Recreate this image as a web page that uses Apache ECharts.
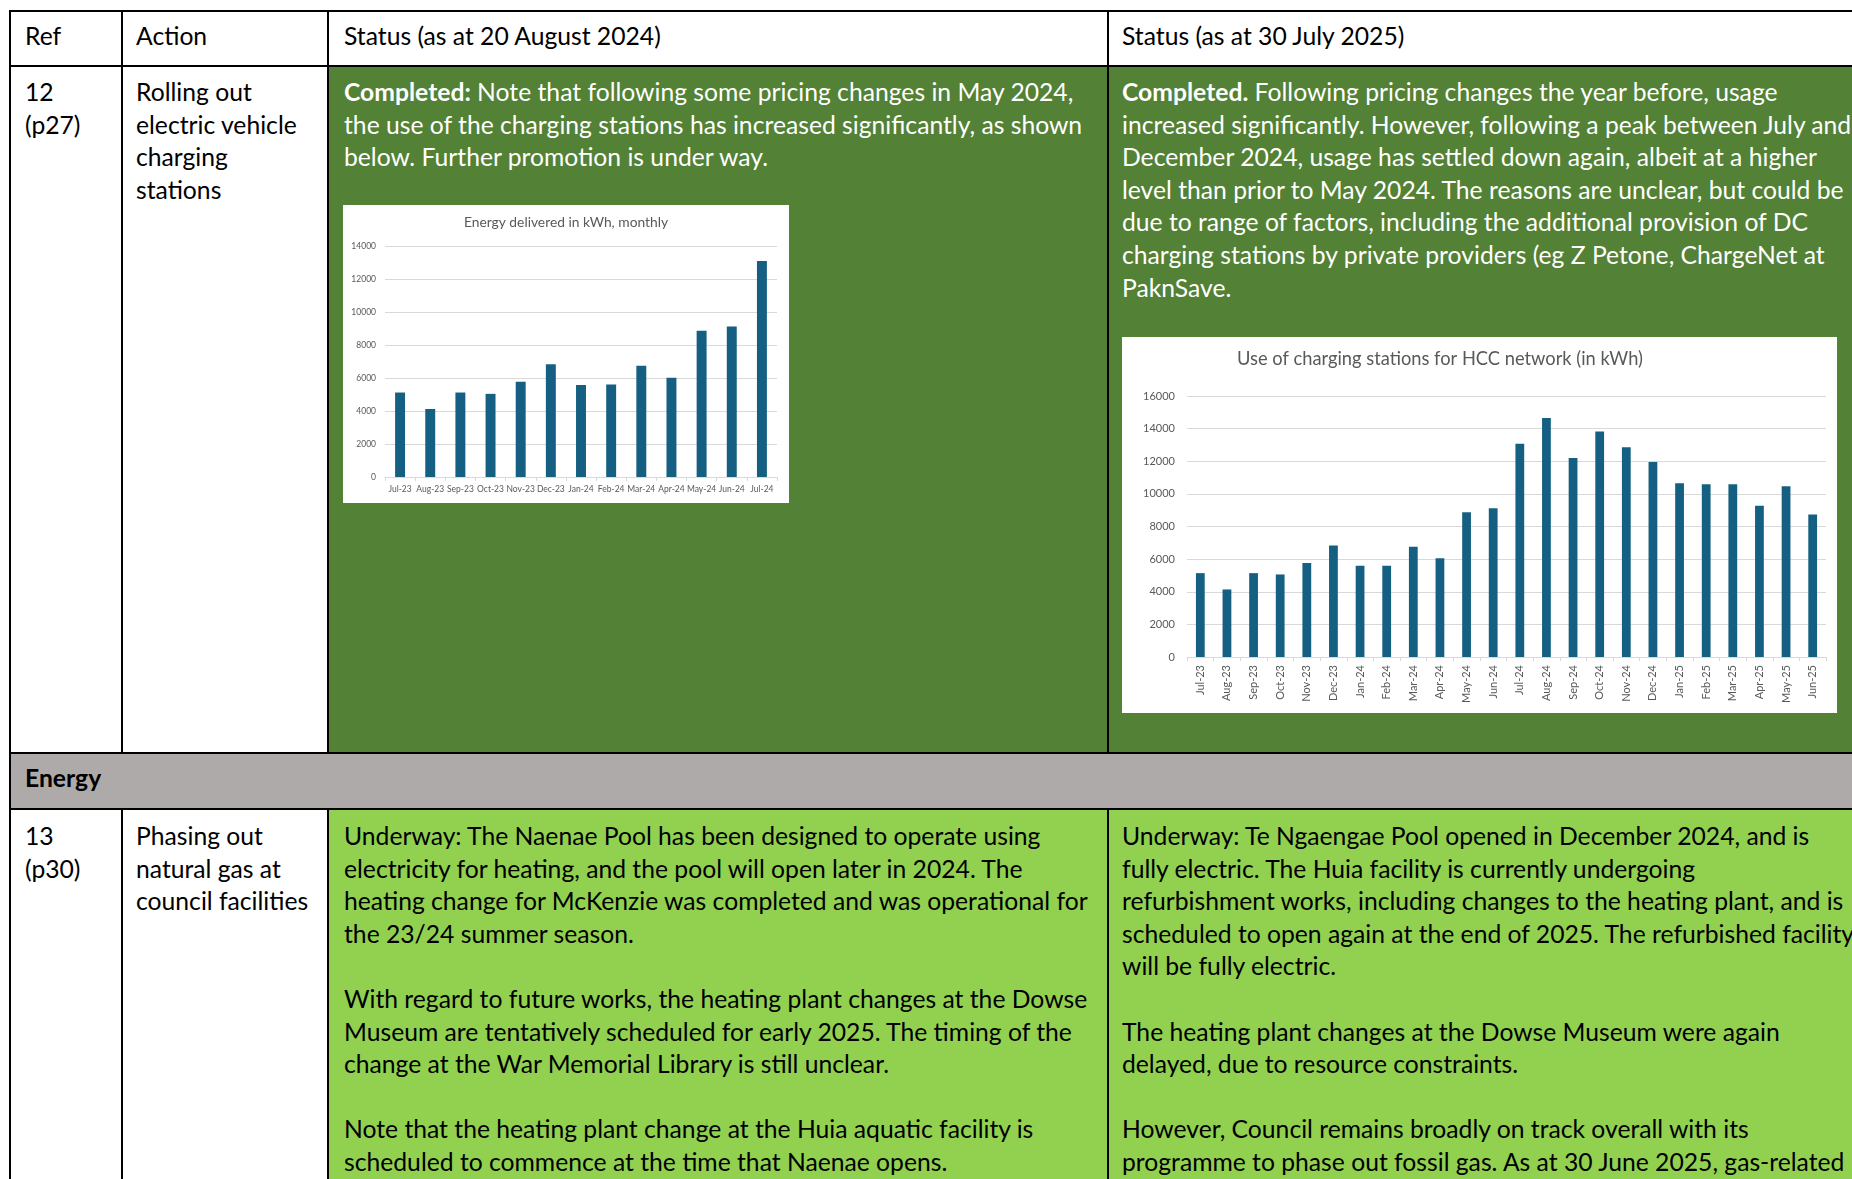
<!DOCTYPE html>
<html>
<head>
<meta charset="utf-8">
<title>Climate action plan - status</title>
<script src="https://cdn.jsdelivr.net/npm/echarts@6.0.0/dist/echarts.min.js"></script>
<style>
html,body{margin:0;padding:0;background:#fff;overflow:hidden;}
body{width:1852px;height:1179px;position:relative;font-family:Lato,"Open Sans",sans-serif;font-size:24.7px;line-height:32.6px;color:#000;}
.bg{position:absolute;}
.txt{position:absolute;white-space:nowrap;}
.hl{position:absolute;background:#000;height:2px;}
.vl{position:absolute;background:#000;width:2px;}
.dark{background:#538135;color:#fff;}
.light{background:#92D050;}
.grey{background:#AEAAAA;}
.chartbox{position:absolute;background:#fff;}
</style>
</head>
<body>

<!-- cell backgrounds -->
<div class="bg dark" style="left:329px;top:67px;width:778px;height:685px;"></div>
<div class="bg dark" style="left:1109px;top:67px;width:743px;height:685px;"></div>
<div class="bg grey" style="left:11px;top:754px;width:1841px;height:54px;"></div>
<div class="bg light" style="left:329px;top:810px;width:778px;height:369px;"></div>
<div class="bg light" style="left:1109px;top:810px;width:743px;height:369px;"></div>

<!-- grid lines of the table -->
<div class="hl" style="left:9px;top:10px;width:1843px;"></div>
<div class="hl" style="left:9px;top:65px;width:1843px;"></div>
<div class="hl" style="left:9px;top:752px;width:1843px;"></div>
<div class="hl" style="left:9px;top:808px;width:1843px;"></div>
<div class="vl" style="left:9px;top:10px;height:1169px;"></div>
<div class="vl" style="left:121px;top:10px;height:744px;"></div>
<div class="vl" style="left:327px;top:10px;height:744px;"></div>
<div class="vl" style="left:1107px;top:10px;height:744px;"></div>
<div class="vl" style="left:121px;top:808px;height:371px;"></div>
<div class="vl" style="left:327px;top:808px;height:371px;"></div>
<div class="vl" style="left:1107px;top:808px;height:371px;"></div>

<!-- header -->
<div class="txt" style="left:25px;top:20px;">Ref</div>
<div class="txt" style="left:136px;top:20px;">Action</div>
<div class="txt" style="left:344px;top:20px;">Status (as at 20 August 2024)</div>
<div class="txt" style="left:1122px;top:20px;">Status (as at 30 July 2025)</div>

<!-- row 12 -->
<div class="txt" style="left:25px;top:76px;">12<br>(p27)</div>
<div class="txt" style="left:136px;top:76px;">Rolling out<br>electric vehicle<br>charging<br>stations</div>
<div class="txt" style="left:344px;top:76px;color:#fff;"><b>Completed:</b> Note that following some pricing changes in May 2024,<br>the use of the charging stations has increased significantly, as shown<br>below. Further promotion is under way.</div>
<div class="txt" style="left:1122px;top:76px;color:#fff;"><b>Completed.</b> Following pricing changes the year before, usage<br>increased significantly. However, following a peak between July and<br>December 2024, usage has settled down again, albeit at a higher<br>level than prior to May 2024. The reasons are unclear, but could be<br>due to range of factors, including the additional provision of DC<br>charging stations by private providers (eg Z Petone, ChargeNet at<br>PaknSave.</div>

<div class="chartbox" id="chart2024" style="left:343px;top:205px;width:446px;height:298px;"></div>
<div class="chartbox" id="chart2025" style="left:1122px;top:337px;width:715px;height:376px;"></div>

<!-- energy section -->
<div class="txt" style="left:25px;top:762px;font-weight:bold;">Energy</div>

<!-- row 13 -->
<div class="txt" style="left:25px;top:820px;">13<br>(p30)</div>
<div class="txt" style="left:136px;top:820px;">Phasing out<br>natural gas at<br>council facilities</div>
<div class="txt" style="left:344px;top:820px;">Underway: The Naenae Pool has been designed to operate using<br>electricity for heating, and the pool will open later in 2024. The<br>heating change for McKenzie was completed and was operational for<br>the 23/24 summer season.<br><br>With regard to future works, the heating plant changes at the Dowse<br>Museum are tentatively scheduled for early 2025. The timing of the<br>change at the War Memorial Library is still unclear.<br><br>Note that the heating plant change at the Huia aquatic facility is<br>scheduled to commence at the time that Naenae opens.</div>
<div class="txt" style="left:1122px;top:820px;">Underway: Te Ngaengae Pool opened in December 2024, and is<br>fully electric. The Huia facility is currently undergoing<br>refurbishment works, including changes to the heating plant, and is<br>scheduled to open again at the end of 2025. The refurbished facility<br>will be fully electric.<br><br>The heating plant changes at the Dowse Museum were again<br>delayed, due to resource constraints.<br><br>However, Council remains broadly on track overall with its<br>programme to phase out fossil gas. As at 30 June 2025, gas-related</div>

<script>
// chart data
var months2024 = ['Jul-23','Aug-23','Sep-23','Oct-23','Nov-23','Dec-23','Jan-24','Feb-24','Mar-24','Apr-24','May-24','Jun-24','Jul-24'];
var energy2024 = [5120, 4120, 5120, 5040, 5770, 6840, 5570, 5610, 6740, 6010, 8860, 9120, 13090];

var months2025 = ['Jul-23','Aug-23','Sep-23','Oct-23','Nov-23','Dec-23','Jan-24','Feb-24','Mar-24','Apr-24','May-24','Jun-24',
                  'Jul-24','Aug-24','Sep-24','Oct-24','Nov-24','Dec-24','Jan-25','Feb-25','Mar-25','Apr-25','May-25','Jun-25'];
var usage2025 = [5140, 4140, 5140, 5060, 5760, 6840, 5590, 5590, 6760, 6060, 8880, 9120,
                 13080, 14650, 12200, 13820, 12860, 11960, 10650, 10590, 10590, 9270, 10470, 8740];

var yMax2024 = 14000;
var yMax2025 = 16000;
var yStep = 2000;

var barColor = '#156082';
var gridColor = '#d9d9d9';
var labelColor = '#595959';
var chartFont = 'Lato, "Open Sans", sans-serif';

function barOption(o) {
    return {
        animation: false,
        title: {
            text: o.title,
            left: o.titleLeft,
            top: o.titleTop,
            padding: 0,
            textStyle: {color: labelColor, fontSize: o.titleSize, fontWeight: 'normal', fontFamily: chartFont}
        },
        grid: o.grid,
        xAxis: {
            type: 'category',
            data: o.cats,
            axisLine: {lineStyle: {color: gridColor}},
            axisTick: {show: true, length: 4, lineStyle: {color: gridColor}},
            axisLabel: {
                interval: 0, hideOverlap: false, rotate: o.rotate, margin: o.xMargin,
                color: labelColor, fontSize: o.labelSize, fontFamily: chartFont
            }
        },
        yAxis: {
            type: 'value',
            min: 0,
            max: o.max,
            interval: yStep,
            axisLine: {show: false},
            axisTick: {show: false},
            splitLine: {lineStyle: {color: gridColor, width: 1}},
            axisLabel: {
                margin: o.yMargin, color: labelColor, fontSize: o.labelSize, fontFamily: chartFont,
                formatter: function (v) { return String(v); }  // no thousands separator
            }
        },
        series: [{
            type: 'bar',
            data: o.values,
            barCategoryGap: '67%',
            itemStyle: {color: barColor}
        }]
    };
}

var c1 = echarts.init(document.getElementById('chart2024'));
c1.setOption(barOption({
    title: 'Energy delivered in kWh, monthly',
    titleLeft: 'center', titleTop: 11, titleSize: 13.8,
    grid: {left: 42, right: 12, top: 41, bottom: 26, outerBoundsMode: 'none'},
    cats: months2024, values: energy2024, max: yMax2024,
    rotate: 0, xMargin: 8, yMargin: 9, labelSize: 8.5
}));

var c2 = echarts.init(document.getElementById('chart2025'));
c2.setOption(barOption({
    title: 'Use of charging stations for HCC network (in kWh)',
    titleLeft: 115, titleTop: 13, titleSize: 18.3,
    grid: {left: 65, right: 11, top: 59, bottom: 56, outerBoundsMode: 'none'},
    cats: months2025, values: usage2025, max: yMax2025,
    rotate: 90, xMargin: 8, yMargin: 12, labelSize: 11
}));
</script>
</body>
</html>
